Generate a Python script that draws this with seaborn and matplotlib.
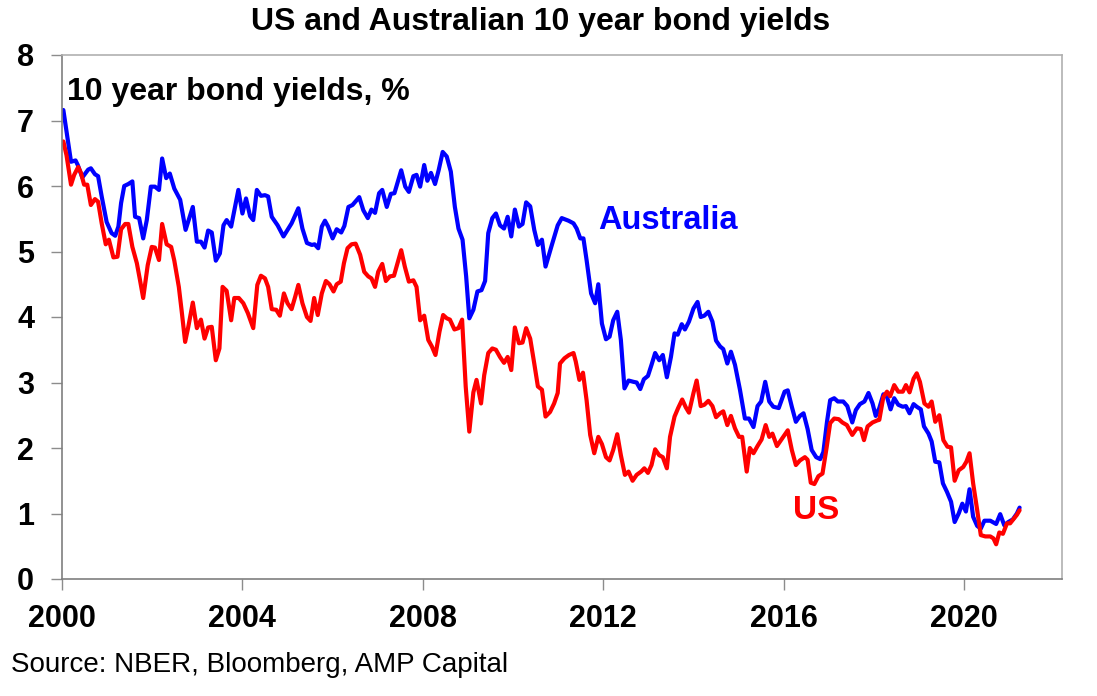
import numpy as np
import pandas as pd
import matplotlib
matplotlib.use("Agg")
import matplotlib.pyplot as plt
import seaborn as sns

# ---- data (decimal year, % yield) ----
aus_t = [2000.03, 2000.13, 2000.20, 2000.30, 2000.35, 2000.45, 2000.58, 2000.64, 2000.73, 2000.80,
         2000.88, 2000.99, 2001.10, 2001.18, 2001.25, 2001.31, 2001.38, 2001.47, 2001.56, 2001.62,
         2001.71, 2001.80, 2001.88, 2001.97, 2002.06, 2002.15, 2002.22, 2002.31, 2002.39, 2002.49,
         2002.62, 2002.74, 2002.90, 2002.99, 2003.08, 2003.16, 2003.24, 2003.32, 2003.41, 2003.50,
         2003.58, 2003.65, 2003.75, 2003.91, 2004.00, 2004.08, 2004.17, 2004.24, 2004.32, 2004.41,
         2004.50, 2004.57, 2004.65, 2004.78, 2004.91, 2005.09, 2005.24, 2005.33, 2005.43, 2005.54,
         2005.60, 2005.68, 2005.76, 2005.83, 2005.90, 2006.00, 2006.09, 2006.19, 2006.26, 2006.35,
         2006.44, 2006.59, 2006.68, 2006.78, 2006.86, 2006.94, 2007.03, 2007.10, 2007.20, 2007.29,
         2007.37, 2007.52, 2007.61, 2007.69, 2007.79, 2007.86, 2007.94, 2008.03, 2008.10, 2008.18,
         2008.27, 2008.35, 2008.44, 2008.53, 2008.62, 2008.71, 2008.79, 2008.88, 2008.96, 2009.03,
         2009.12, 2009.21, 2009.30, 2009.38, 2009.45, 2009.54, 2009.62, 2009.71, 2009.80, 2009.88,
         2009.96, 2010.04, 2010.13, 2010.21, 2010.29, 2010.38, 2010.47, 2010.55, 2010.64, 2010.72,
         2010.86, 2010.99, 2011.08, 2011.23, 2011.34, 2011.41, 2011.49, 2011.56, 2011.63, 2011.73,
         2011.82, 2011.89, 2011.97, 2012.06, 2012.14, 2012.22, 2012.31, 2012.39, 2012.47, 2012.56,
         2012.67, 2012.74, 2012.82, 2012.90, 2012.99, 2013.07, 2013.15, 2013.24, 2013.32, 2013.41,
         2013.50, 2013.58, 2013.65, 2013.74, 2013.81, 2013.90, 2014.00, 2014.09, 2014.16, 2014.24,
         2014.33, 2014.42, 2014.50, 2014.59, 2014.66, 2014.75, 2014.83, 2014.92, 2015.03, 2015.14,
         2015.23, 2015.33, 2015.42, 2015.50, 2015.59, 2015.68, 2015.77, 2015.89, 2016.02, 2016.09,
         2016.18, 2016.27, 2016.36, 2016.44, 2016.53, 2016.62, 2016.72, 2016.81, 2016.88, 2016.96,
         2017.03, 2017.12, 2017.20, 2017.32, 2017.41, 2017.52, 2017.60, 2017.69, 2017.79, 2017.88,
         2017.97, 2018.04, 2018.12, 2018.21, 2018.29, 2018.37, 2018.45, 2018.54, 2018.64, 2018.71,
         2018.79, 2018.88, 2018.95, 2019.04, 2019.11, 2019.21, 2019.28, 2019.36, 2019.45, 2019.53,
         2019.62, 2019.71, 2019.79, 2019.88, 2019.96, 2020.04, 2020.12, 2020.20, 2020.29, 2020.37,
         2020.45, 2020.58, 2020.71, 2020.80, 2020.89, 2020.98, 2021.08, 2021.17, 2021.23]
aus_v = [7.16, 6.70, 6.37, 6.39, 6.32, 6.13, 6.25, 6.27, 6.18, 6.15,
         5.84, 5.45, 5.28, 5.24, 5.38, 5.74, 6.00, 6.03, 6.07, 5.53,
         5.51, 5.20, 5.48, 5.99, 5.99, 5.94, 6.42, 6.12, 6.19, 5.96,
         5.79, 5.33, 5.68, 5.15, 5.15, 5.06, 5.32, 5.29, 4.86, 4.97,
         5.40, 5.48, 5.38, 5.94, 5.58, 5.81, 5.54, 5.48, 5.94, 5.85,
         5.86, 5.84, 5.53, 5.40, 5.23, 5.43, 5.66, 5.35, 5.13, 5.10,
         5.11, 5.05, 5.38, 5.47, 5.38, 5.20, 5.34, 5.29, 5.39, 5.68,
         5.71, 5.83, 5.63, 5.51, 5.64, 5.59, 5.89, 5.94, 5.68, 5.88,
         5.89, 6.24, 5.99, 5.91, 6.15, 6.17, 5.99, 6.32, 6.08, 6.20,
         6.03, 6.24, 6.52, 6.45, 6.22, 5.68, 5.35, 5.18, 4.62, 3.98,
         4.11, 4.39, 4.41, 4.55, 5.28, 5.51, 5.58, 5.40, 5.35, 5.53,
         5.23, 5.64, 5.38, 5.42, 5.75, 5.69, 5.33, 5.10, 5.18, 4.77,
         5.10, 5.40, 5.51, 5.47, 5.43, 5.35, 5.20, 5.20, 4.87, 4.36,
         4.21, 4.50, 3.90, 3.66, 3.70, 3.95, 4.08, 3.65, 2.91, 3.03,
         3.01, 3.00, 2.90, 3.05, 3.10, 3.27, 3.45, 3.34, 3.42, 3.08,
         3.39, 3.75, 3.73, 3.89, 3.81, 3.93, 4.13, 4.23, 4.00, 4.02,
         4.08, 3.93, 3.64, 3.55, 3.51, 3.29, 3.47, 3.27, 2.89, 2.45,
         2.45, 2.32, 2.64, 2.71, 3.01, 2.71, 2.63, 2.61, 2.86, 2.88,
         2.63, 2.40, 2.49, 2.53, 2.29, 1.97, 1.86, 1.83, 1.94, 2.40,
         2.73, 2.76, 2.71, 2.71, 2.64, 2.39, 2.58, 2.67, 2.71, 2.84,
         2.68, 2.49, 2.61, 2.82, 2.78, 2.59, 2.76, 2.66, 2.63, 2.64,
         2.53, 2.67, 2.63, 2.59, 2.33, 2.22, 2.10, 1.79, 1.78, 1.46,
         1.33, 1.18, 0.87, 1.00, 1.15, 1.03, 1.37, 0.95, 0.81, 0.77,
         0.89, 0.89, 0.84, 0.99, 0.82, 0.87, 0.91, 1.00, 1.09]

us_t = [2000.03, 2000.10, 2000.20, 2000.27, 2000.36, 2000.42, 2000.49, 2000.56, 2000.64, 2000.73,
        2000.80, 2000.88, 2000.97, 2001.04, 2001.14, 2001.23, 2001.31, 2001.40, 2001.47, 2001.56,
        2001.66, 2001.73, 2001.80, 2001.90, 2001.99, 2002.06, 2002.15, 2002.22, 2002.32, 2002.42,
        2002.49, 2002.59, 2002.65, 2002.73, 2002.80, 2002.90, 2002.99, 2003.08, 2003.16, 2003.24,
        2003.32, 2003.41, 2003.49, 2003.56, 2003.65, 2003.75, 2003.82, 2003.92, 2004.02, 2004.12,
        2004.24, 2004.33, 2004.41, 2004.50, 2004.57, 2004.65, 2004.75, 2004.83, 2004.92, 2005.00,
        2005.09, 2005.17, 2005.24, 2005.33, 2005.43, 2005.51, 2005.59, 2005.67, 2005.76, 2005.85,
        2005.93, 2006.02, 2006.09, 2006.18, 2006.25, 2006.33, 2006.42, 2006.51, 2006.61, 2006.70,
        2006.79, 2006.86, 2006.94, 2007.01, 2007.10, 2007.18, 2007.27, 2007.36, 2007.52, 2007.60,
        2007.69, 2007.79, 2007.86, 2007.94, 2008.03, 2008.12, 2008.20, 2008.28, 2008.37, 2008.45,
        2008.53, 2008.60, 2008.70, 2008.79, 2008.87, 2008.95, 2009.03, 2009.12, 2009.19, 2009.29,
        2009.36, 2009.45, 2009.54, 2009.62, 2009.71, 2009.80, 2009.88, 2009.96, 2010.04, 2010.13,
        2010.21, 2010.29, 2010.38, 2010.47, 2010.55, 2010.64, 2010.72, 2010.82, 2010.91, 2010.99,
        2011.04, 2011.14, 2011.24, 2011.34, 2011.39, 2011.47, 2011.55, 2011.63, 2011.71, 2011.80,
        2011.89, 2011.97, 2012.06, 2012.14, 2012.22, 2012.31, 2012.39, 2012.48, 2012.56, 2012.65,
        2012.74, 2012.84, 2012.91, 2012.99, 2013.07, 2013.15, 2013.24, 2013.32, 2013.41, 2013.48,
        2013.58, 2013.66, 2013.75, 2013.83, 2013.90, 2014.00, 2014.07, 2014.16, 2014.24, 2014.33,
        2014.42, 2014.50, 2014.59, 2014.66, 2014.75, 2014.83, 2014.92, 2015.01, 2015.08, 2015.18,
        2015.25, 2015.33, 2015.42, 2015.51, 2015.60, 2015.68, 2015.75, 2015.85, 2015.94, 2016.09,
        2016.18, 2016.27, 2016.36, 2016.47, 2016.53, 2016.60, 2016.68, 2016.77, 2016.86, 2016.95,
        2017.03, 2017.12, 2017.22, 2017.30, 2017.40, 2017.52, 2017.62, 2017.71, 2017.78, 2017.86,
        2017.97, 2018.07, 2018.12, 2018.21, 2018.29, 2018.36, 2018.45, 2018.54, 2018.64, 2018.71,
        2018.79, 2018.88, 2018.95, 2019.02, 2019.12, 2019.21, 2019.28, 2019.36, 2019.45, 2019.54,
        2019.63, 2019.71, 2019.79, 2019.88, 2019.98, 2020.05, 2020.12, 2020.20, 2020.29, 2020.37,
        2020.47, 2020.58, 2020.65, 2020.71, 2020.78, 2020.86, 2020.95, 2021.02, 2021.09, 2021.17,
        2021.23]
us_v = [6.68, 6.47, 6.02, 6.17, 6.29, 6.20, 6.02, 6.02, 5.71, 5.80,
        5.76, 5.43, 5.11, 5.18, 4.91, 4.92, 5.34, 5.42, 5.42, 5.07,
        4.82, 4.56, 4.29, 4.79, 5.07, 5.06, 4.87, 5.42, 5.11, 5.07,
        4.86, 4.46, 4.11, 3.62, 3.85, 4.22, 3.83, 3.96, 3.67, 3.84,
        3.85, 3.34, 3.52, 4.46, 4.40, 3.95, 4.29, 4.29, 4.21, 4.06,
        3.83, 4.49, 4.63, 4.59, 4.46, 4.12, 4.11, 4.02, 4.36, 4.21,
        4.12, 4.31, 4.49, 4.21, 4.00, 3.94, 4.29, 4.03, 4.36, 4.55,
        4.50, 4.39, 4.50, 4.54, 4.82, 5.05, 5.11, 5.12, 4.95, 4.69,
        4.62, 4.59, 4.46, 4.69, 4.81, 4.55, 4.62, 4.63, 5.02, 4.77,
        4.54, 4.56, 4.46, 3.95, 4.02, 3.65, 3.55, 3.42, 3.78, 4.03,
        3.98, 3.96, 3.81, 3.83, 3.96, 2.94, 2.25, 2.85, 3.04, 2.68,
        3.11, 3.45, 3.52, 3.50, 3.39, 3.30, 3.39, 3.19, 3.84, 3.60,
        3.61, 3.83, 3.67, 3.29, 2.94, 2.89, 2.48, 2.55, 2.68, 2.84,
        3.29, 3.37, 3.42, 3.45, 3.32, 3.04, 3.15, 2.73, 2.20, 1.92,
        2.17, 2.06, 1.86, 1.81, 1.97, 2.21, 1.89, 1.59, 1.64, 1.50,
        1.59, 1.64, 1.69, 1.62, 1.74, 1.98, 1.89, 1.86, 1.69, 2.17,
        2.48, 2.61, 2.74, 2.62, 2.54, 2.84, 3.03, 2.64, 2.66, 2.72,
        2.64, 2.47, 2.53, 2.56, 2.35, 2.49, 2.30, 2.17, 2.17, 1.64,
        2.00, 1.92, 2.03, 2.13, 2.35, 2.17, 2.22, 2.03, 2.12, 2.27,
        1.97, 1.74, 1.81, 1.86, 1.82, 1.47, 1.45, 1.57, 1.61, 2.00,
        2.38, 2.45, 2.44, 2.39, 2.35, 2.20, 2.30, 2.29, 2.12, 2.33,
        2.39, 2.42, 2.43, 2.78, 2.86, 2.79, 2.96, 2.86, 2.86, 2.96,
        2.85, 3.06, 3.14, 3.01, 2.68, 2.63, 2.71, 2.40, 2.50, 2.12,
        2.02, 2.01, 1.50, 1.66, 1.71, 1.79, 1.92, 1.46, 1.05, 0.67,
        0.65, 0.65, 0.62, 0.53, 0.71, 0.69, 0.85, 0.85, 0.91, 0.98,
        1.05]

x_ticks = [2000, 2004, 2008, 2012, 2016, 2020]
y_ticks = [0, 1, 2, 3, 4, 5, 6, 7, 8]

title = "US and Australian 10 year bond yields"
subtitle = "10 year bond yields, %"
source = "Source: NBER, Bloomberg, AMP Capital"

# ---- plotting ----
sns.set_theme(style="white")
plt.rcParams["font.family"] = ["Liberation Sans", "DejaVu Sans"]

df = pd.concat([
    pd.DataFrame({"year": aus_t, "yield": aus_v, "series": "Australia"}),
    pd.DataFrame({"year": us_t, "yield": us_v, "series": "US"}),
])

fig = plt.figure(figsize=(10.97, 6.96), dpi=100)
ax = fig.add_axes([62 / 1097, 1 - 579 / 696, 1000 / 1097, 524 / 696])

palette = {"Australia": "#0000FF", "US": "#FF0000"}
sns.lineplot(data=df, x="year", y="yield", hue="series", palette=palette,
             linewidth=3.0, ax=ax, legend=False, sort=True, estimator=None)

ax.set_xlim(2000, 2022.17)
ax.set_ylim(0, 8)
ax.set_xticks(x_ticks)
ax.set_xticklabels([str(t) for t in x_ticks])
ax.set_yticks(y_ticks)
ax.set_yticklabels([str(t) for t in y_ticks])
ax.set_xlabel("")
ax.set_ylabel("")

for lab in ax.get_xticklabels() + ax.get_yticklabels():
    lab.set_fontweight("bold")
    lab.set_fontsize(22)
    lab.set_color("black")

ax.tick_params(axis="both", which="both", direction="out", length=8, width=1,
               color="#8c8c8c", bottom=True, left=True)
ax.tick_params(axis="x", pad=10)
ax.tick_params(axis="y", pad=12)

ax.spines["left"].set_color("#7f7f7f")
ax.spines["bottom"].set_color("#7f7f7f")
ax.spines["top"].set_color("#b0b0b0")
ax.spines["right"].set_color("#b0b0b0")
for s in ax.spines.values():
    s.set_linewidth(1.2)
    s.set_visible(True)

ax.text(2011.88, 5.48, "Australia", color="#0000FF", fontsize=23.5,
        fontweight="bold", ha="left", va="center")
ax.text(2016.2, 1.05, "US", color="#FF0000", fontsize=24,
        fontweight="bold", ha="left", va="center")

fig.text(0.493, 1 - 22 / 696, title, ha="center", va="center",
         fontsize=23, fontweight="bold", color="black")
fig.text(67 / 1097, 1 - 92 / 696, subtitle, ha="left", va="center",
         fontsize=23, fontweight="bold", color="black")
fig.text(11 / 1097, 1 - 665 / 696, source, ha="left", va="center",
         fontsize=20, color="black")

fig.savefig("out.png", dpi=100, facecolor="white")
